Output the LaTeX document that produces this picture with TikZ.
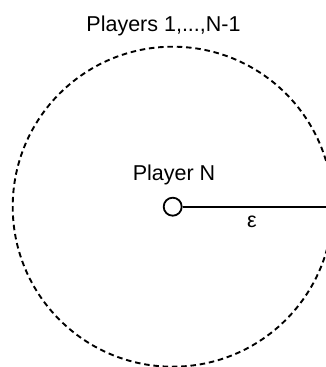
\documentclass[tikz,border=0pt]{standalone}
\usepackage{fontspec}
\setmainfont{Liberation Sans}
\begin{document}
\begin{tikzpicture}[x=1pt,y=1pt,
  lbl/.style={inner sep=0pt, anchor=base, font=\fontsize{21.5}{25}\selectfont},
  ring/.style={circle, draw, dashed, dash pattern=on 5.5pt off 3.8pt, line width=1.9pt, minimum size=320pt, inner sep=0pt},
  dot/.style={circle, draw, line width=1.8pt, minimum size=18pt, inner sep=0pt, fill=white}]
\useasboundingbox (0,0) rectangle (326,-367);
\clip (0,0) rectangle (326,-367);
\coordinate (c) at (172.7,-206.7);
\node[ring] (big) at (c) {};
\coordinate (edge) at (330,-206.7);
\node[dot] (pn) at (c) {};
\draw[line width=1.9pt] (pn.east) -- (edge);
\node[lbl] (top) at (163.5,-31.5) {Players 1,...,N-1};
\node[lbl] (pname) at (174,-180) {Player N};
\node[lbl] (eps) at (252,-227) {ε};
\end{tikzpicture}
\end{document}
